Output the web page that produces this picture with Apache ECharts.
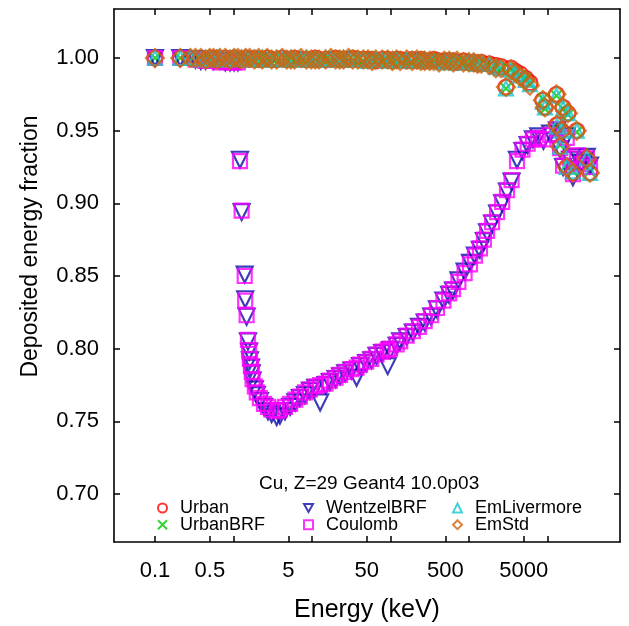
<!DOCTYPE html>
<html><head><meta charset="utf-8">
<script src="https://cdn.jsdelivr.net/npm/echarts@6/dist/echarts.min.js"></script>
<style>html,body{margin:0;padding:0;background:#fff}#c{width:629px;height:626px}</style>
</head><body><div id="c"></div>
<script>
// ---- data (energy in keV, deposited energy fraction) ----
const energyA = [
  0.1, 0.21, 0.282, 0.328, 0.384, 0.441, 0.498, 0.556, 0.613, 0.671,
  0.787, 0.903, 1.02, 1.14, 1.26, 1.43, 1.61, 1.85, 2.09, 2.33,
  2.69, 3.06, 3.55, 4.16, 4.77, 5.39, 6.01, 7.26, 8.52, 9.78,
  11.0, 12.3, 14.9, 17.4, 20.0, 22.6, 25.2, 29.2, 33.1, 38.4,
  45.0, 51.7, 58.4, 65.1, 78.6, 92.2, 106, 120, 133, 161,
  189, 217, 245, 273, 316, 358, 415, 487, 559, 632,
  705, 851, 998, 1150, 1290, 1440, 1820, 2200, 2570, 2960,
  3420, 3880, 4500, 5270, 5980, 8730, 9290, 13000, 13200, 14500,
  15100, 15800, 17600, 18200, 21100, 23600, 31700, 34800
];
const urban = [
  1.000, 1.000, 1.000, 0.999, 1.000, 0.999, 1.000, 0.999, 1.000, 0.999,
  1.000, 0.999, 1.000, 0.999, 0.999, 1.000, 0.999, 1.000, 0.999, 0.999,
  1.000, 0.999, 0.999, 1.000, 0.999, 0.999, 1.000, 0.999, 0.999, 0.999,
  1.000, 0.999, 0.999, 0.999, 1.000, 0.999, 0.999, 0.999, 1.000, 0.999,
  0.999, 0.999, 0.999, 0.998, 0.999, 0.999, 0.998, 0.999, 0.999, 0.998,
  0.999, 0.998, 0.999, 0.998, 0.998, 0.999, 0.998, 0.998, 0.998, 0.998,
  0.997, 0.998, 0.997, 0.997, 0.996, 0.997, 0.996, 0.995, 0.994, 0.980,
  0.993, 0.991, 0.989, 0.986, 0.983, 0.971, 0.966, 0.975, 0.954, 0.939,
  0.950, 0.966, 0.925, 0.962, 0.921, 0.950, 0.931, 0.921
];
const urbanBRF = [
  1.000, 1.000, 0.999, 1.000, 0.999, 1.000, 0.999, 1.000, 0.999, 1.000,
  0.999, 1.000, 0.999, 1.000, 1.000, 0.999, 1.000, 0.999, 1.000, 0.999,
  0.999, 1.000, 0.999, 0.999, 1.000, 0.999, 0.999, 1.000, 0.999, 0.999,
  0.999, 1.000, 0.999, 0.999, 0.999, 1.000, 0.999, 0.999, 0.999, 0.999,
  0.998, 0.999, 0.999, 0.999, 0.998, 0.999, 0.999, 0.998, 0.999, 0.999,
  0.998, 0.999, 0.998, 0.998, 0.999, 0.998, 0.998, 0.998, 0.997, 0.998,
  0.998, 0.997, 0.997, 0.996, 0.997, 0.996, 0.995, 0.994, 0.993, 0.979,
  0.992, 0.990, 0.988, 0.986, 0.982, 0.972, 0.965, 0.974, 0.953, 0.940,
  0.951, 0.965, 0.926, 0.961, 0.922, 0.949, 0.932, 0.922
];
const emLivermore = [
  1.000, 1.000, 1.000, 1.000, 0.999, 1.000, 1.000, 0.999, 1.000, 1.000,
  0.999, 1.000, 1.000, 0.999, 1.000, 1.000, 0.999, 1.000, 0.999, 1.000,
  0.999, 0.999, 1.000, 0.999, 0.999, 1.000, 0.999, 0.999, 1.000, 0.999,
  0.999, 0.999, 1.000, 0.999, 0.999, 0.999, 1.000, 0.999, 0.999, 0.999,
  0.999, 0.998, 0.999, 0.999, 0.999, 0.998, 0.999, 0.999, 0.998, 0.999,
  0.999, 0.998, 0.998, 0.999, 0.998, 0.998, 0.998, 0.997, 0.998, 0.998,
  0.997, 0.997, 0.998, 0.997, 0.996, 0.997, 0.996, 0.994, 0.993, 0.979,
  0.992, 0.990, 0.988, 0.985, 0.982, 0.970, 0.966, 0.974, 0.953, 0.939,
  0.950, 0.965, 0.925, 0.962, 0.922, 0.950, 0.931, 0.921
];
const emStd = [
  1.000, 1.000, 1.000, 1.000, 1.000, 0.999, 1.000, 1.000, 0.999, 1.000,
  1.000, 0.999, 1.000, 1.000, 0.999, 1.000, 1.000, 0.999, 1.000, 0.999,
  1.000, 0.999, 0.999, 1.000, 0.999, 0.999, 0.999, 1.000, 0.999, 0.999,
  0.999, 0.999, 0.999, 1.000, 0.999, 0.999, 0.999, 1.000, 0.999, 0.999,
  0.999, 0.999, 0.998, 0.999, 0.999, 0.999, 0.998, 0.999, 0.998, 0.999,
  0.998, 0.999, 0.998, 0.998, 0.998, 0.998, 0.997, 0.998, 0.998, 0.997,
  0.998, 0.997, 0.997, 0.997, 0.996, 0.996, 0.995, 0.993, 0.993, 0.980,
  0.992, 0.990, 0.987, 0.985, 0.981, 0.971, 0.966, 0.975, 0.954, 0.939,
  0.950, 0.966, 0.925, 0.962, 0.921, 0.950, 0.931, 0.921
];
const energyB = [
  0.1, 0.21, 0.328, 0.384, 0.441, 0.556, 0.671, 0.787, 0.903, 1.02,
  1.14, 1.21, 1.27, 1.39, 1.41, 1.47, 1.53, 1.58, 1.62, 1.67,
  1.71, 1.75, 1.87, 1.98, 2.17, 2.45, 2.75, 3.06, 3.55, 3.91,
  4.53, 5.27, 6.14, 7.01, 8.14, 9.40, 11.0, 12.7, 14.9, 16.9,
  20.0, 22.8, 26.5, 31.8, 37.0, 41.0, 49.0, 57.0, 66.4, 78.6,
  92.2, 99.0, 120, 133, 161, 193, 231, 273, 330, 391,
  473, 559, 626, 734, 880, 1030, 1190, 1380, 1550, 1700,
  1970, 2280, 2650, 3050, 3490, 4090, 4810, 5590, 6530, 7630,
  8890, 10800, 13200, 14500, 15800, 17600, 19400, 21100, 23800, 27000,
  31700, 34800
];
const wentzelBRF = [
  1.000, 1.000, 0.999, 0.998, 0.998, 0.998, 0.998, 0.997, 0.997, 0.997,
  0.997, 0.930, 0.894, 0.851, 0.834, 0.822, 0.805, 0.798, 0.792, 0.787,
  0.783, 0.778, 0.772, 0.768, 0.764, 0.760, 0.757, 0.755, 0.753, 0.754,
  0.757, 0.760, 0.763, 0.766, 0.768, 0.771, 0.773, 0.763, 0.775, 0.777,
  0.779, 0.781, 0.783, 0.785, 0.780, 0.788, 0.790, 0.792, 0.795, 0.797,
  0.788, 0.799, 0.802, 0.805, 0.808, 0.811, 0.815, 0.818, 0.822, 0.827,
  0.833, 0.837, 0.840, 0.847, 0.853, 0.859, 0.864, 0.868, 0.874, 0.880,
  0.886, 0.893, 0.900, 0.908, 0.915, 0.930, 0.936, 0.940, 0.944, 0.946,
  0.943, 0.948, 0.950, 0.937, 0.925, 0.946, 0.930, 0.918, 0.932, 0.928,
  0.932, 0.926
];
const coulomb = [
  1.000, 1.000, 0.999, 0.999, 0.998, 0.998, 0.997, 0.998, 0.997, 0.997,
  0.997, 0.929, 0.895, 0.850, 0.833, 0.823, 0.806, 0.799, 0.793, 0.788,
  0.784, 0.779, 0.774, 0.770, 0.766, 0.762, 0.760, 0.758, 0.757, 0.758,
  0.760, 0.762, 0.765, 0.767, 0.770, 0.772, 0.774, 0.775, 0.776, 0.778,
  0.780, 0.782, 0.784, 0.786, 0.787, 0.789, 0.791, 0.793, 0.796, 0.798,
  0.799, 0.800, 0.803, 0.805, 0.809, 0.812, 0.815, 0.819, 0.823, 0.828,
  0.833, 0.838, 0.841, 0.846, 0.852, 0.858, 0.864, 0.869, 0.875, 0.881,
  0.887, 0.894, 0.901, 0.909, 0.916, 0.929, 0.937, 0.941, 0.944, 0.945,
  0.944, 0.947, 0.951, 0.938, 0.926, 0.945, 0.931, 0.920, 0.933, 0.927,
  0.931, 0.925
];
const xTickEnergies = [0.1, 0.5, 1, 5, 10, 50, 100, 500, 1000, 5000, 10000];
const xLabelEnergies = [0.1, 0.5, 5, 50, 500, 5000];
const yTicks = [0.70, 0.75, 0.80, 0.85, 0.90, 0.95, 1.00];
const titleText = 'Cu, Z=29 Geant4 10.0p03';

// ---- chart ----
const FONT = '"Liberation Sans", Arial, sans-serif';
const lg = Math.log10;
const xMin = -1.522, xMax = 4.924, yMin = 0.667, yMax = 1.0337;
function pts(E, V) { return E.map((e, i) => [lg(e), V[i]]); }
const xTicksL = xTickEnergies.map(lg);
const xLabelsL = xLabelEnergies.map(lg);
function fmtX(v) { return String(parseFloat(Math.pow(10, v).toPrecision(3))); }

const CROSS = 'path://M0,0L10,10M0,10L10,0';
const TRI_DOWN = 'path://M0,0L10,0L5,9Z';
const defs = [
  { name: 'Urban', E: energyA, V: urban, symbol: 'circle', icon: 'circle', size: 15, color: '#ff0000', rot: 0 },
  { name: 'UrbanBRF', E: energyA, V: urbanBRF, symbol: CROSS, icon: CROSS, size: 10, color: '#00c800', rot: 0 },
  { name: 'WentzelBRF', E: energyB, V: wentzelBRF, symbol: 'triangle', icon: TRI_DOWN, size: 16, color: '#0c0ca8', rot: 180 },
  { name: 'Coulomb', E: energyB, V: coulomb, symbol: 'rect', icon: 'rect', size: 14, color: '#ff00ff', rot: 0 },
  { name: 'EmLivermore', E: energyA, V: emLivermore, symbol: 'triangle', icon: 'triangle', size: 14, color: '#1cc4cc', rot: 0 },
  { name: 'EmStd', E: energyA, V: emStd, symbol: 'diamond', icon: 'diamond', size: 18, color: '#cc6611', rot: 0 }
];

const series = defs.map(d => ({
  type: 'scatter', name: d.name, data: pts(d.E, d.V),
  symbol: d.symbol, symbolSize: d.size, symbolRotate: d.rot,
  itemStyle: { color: 'rgba(0,0,0,0)', borderColor: d.color, borderWidth: 2.2 },
  emphasis: { disabled: true }, animation: false, clip: false
}));

function legendFor(names, left) {
  return {
    orient: 'vertical', left: left, top: 499, padding: 0, itemGap: -1.3,
    itemWidth: 9, itemHeight: 9, selectedMode: false,
    textStyle: { fontFamily: FONT, fontSize: 18, color: '#000', padding: [0, 0, 0, 8] },
    data: names.map(n => {
      const d = defs.find(x => x.name === n);
      return { name: n, icon: d.icon, symbolRotate: 0,
        itemStyle: { color: 'rgba(0,0,0,0)', borderColor: d.color, borderWidth: 2 } };
    })
  };
}

const axisLineStyle = { show: true, onZero: false, lineStyle: { color: '#000', width: 1.6 } };
const option = {
  backgroundColor: '#fff',
  animation: false,
  title: { text: titleText, left: 259, top: 474, padding: 0,
    textStyle: { fontFamily: FONT, fontSize: 19, fontWeight: 'normal', color: '#000' } },
  legend: [legendFor(['Urban', 'UrbanBRF'], 157), legendFor(['WentzelBRF', 'Coulomb'], 303), legendFor(['EmLivermore', 'EmStd'], 452)],
  grid: { left: 114, right: 9, top: 9, bottom: 84, outerBoundsMode: 'none' },
  xAxis: [
    { type: 'value', min: xMin, max: xMax, position: 'bottom',
      name: 'Energy (keV)', nameLocation: 'middle', nameGap: 56, nameMoveOverlap: false,
      nameTextStyle: { fontFamily: FONT, fontSize: 25, color: '#000' },
      axisLine: axisLineStyle, splitLine: { show: false },
      axisTick: { show: true, inside: true, length: 6, customValues: xTicksL, lineStyle: { color: '#000', width: 1.5 } },
      axisLabel: { show: true, margin: 18, customValues: xLabelsL, formatter: fmtX,
        fontFamily: FONT, fontSize: 22, color: '#000' } },
    { type: 'value', min: xMin, max: xMax, position: 'top',
      axisLine: axisLineStyle, splitLine: { show: false },
      axisTick: { show: true, inside: true, length: 6, customValues: xTicksL, lineStyle: { color: '#000', width: 1.5 } },
      axisLabel: { show: false } }
  ],
  yAxis: [
    { type: 'value', min: yMin, max: yMax, position: 'left',
      name: 'Deposited energy fraction', nameLocation: 'middle', nameGap: 72, nameRotate: 90, nameMoveOverlap: false,
      nameTextStyle: { fontFamily: FONT, fontSize: 23, color: '#000', padding: [0, 0, 0, 58] },
      axisLine: axisLineStyle, splitLine: { show: false },
      axisTick: { show: true, inside: true, length: 6, customValues: yTicks, lineStyle: { color: '#000', width: 1.5 } },
      axisLabel: { show: true, margin: 15, customValues: yTicks, formatter: v => v.toFixed(2),
        fontFamily: FONT, fontSize: 22, color: '#000' } },
    { type: 'value', min: yMin, max: yMax, position: 'right',
      axisLine: axisLineStyle, splitLine: { show: false },
      axisTick: { show: true, inside: true, length: 6, customValues: yTicks, lineStyle: { color: '#000', width: 1.5 } },
      axisLabel: { show: false } }
  ],
  series: series
};
const chart = echarts.init(document.getElementById('c'), null, { renderer: 'canvas' });
chart.setOption(option);
</script>
</body></html>
